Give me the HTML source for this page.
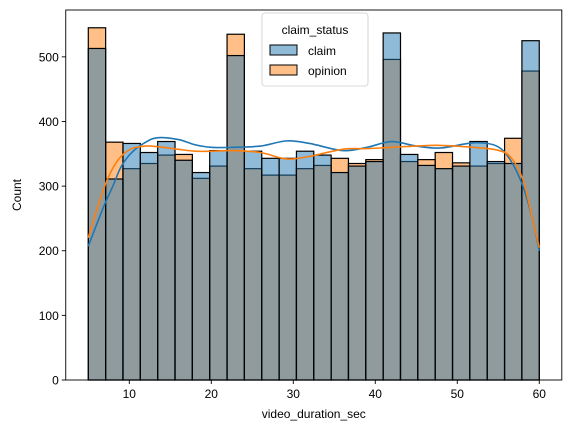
<!DOCTYPE html>
<html><head><meta charset="utf-8"><style>
body{margin:0;background:#fff;}
svg{display:block;font-family:"Liberation Sans","DejaVu Sans",sans-serif;}
</style></head><body>
<svg id="chart" width="571" height="433"></svg>
<script>
const binStart = 5, binEnd = 60;
const claimCounts = [513,311,366,352,369,340,321,355,502,354,343,343,354,348,321,331,338,537,349,332,327,331,369,338,335,525];
const opinionCounts = [545,368,327,335,348,349,312,331,535,327,317,317,327,332,343,335,341,496,338,341,352,336,331,335,374,478];
const kdeX = [5,6,7,8,9,10.3,12,13.5,16,18,20,22.6,26,29.2,32,36,39,42,45,48,52,54.8,56.5,58,59.2,60];
const claimKde = [207,240,272,300,330,352,368,375,372,364,360,360,362,370,366,355,360,369,362,359,367,362,340,300,248,200];
const opinionKde = [220,262,300,328,346,358,362,361,357,354,354,355,352,342,346,357,358,360,362,363,360,356,345,310,248,205];
const xTicks = [10,20,30,40,50,60];
const yTicks = [0,100,200,300,400,500];

const L=65.75,R=561.8,T=10,B=380;
const xMin=2.25,xMax=62.75,yMax=572.5;
const xs=v=>L+(v-xMin)/(xMax-xMin)*(R-L);
const ys=v=>B-v/yMax*(B-T);
const svg=document.getElementById('chart');
const NS='http://www.w3.org/2000/svg';
function mk(tag,attrs,parent){const e=document.createElementNS(NS,tag);for(const k in attrs)e.setAttribute(k,attrs[k]);(parent||svg).appendChild(e);return e;}

const n=claimCounts.length, bw=(binEnd-binStart)/n;
function drawBars(arr,color,name){
  const g=mk('g',{});
  
  
  arr.forEach((c,i)=>{
    const x0=xs(binStart+i*bw),x1=xs(binStart+(i+1)*bw);
    const r=mk('rect',{x:x0,y:ys(c),width:x1-x0,height:B-ys(c),fill:color,'fill-opacity':0.5,stroke:'#000','stroke-width':1.2},g);
    
    
  });
}
drawBars(opinionCounts,'#ff7f0e','opinion');
drawBars(claimCounts,'#1f77b4','claim');

function curve(xa,ya,color,name){
  const p=xa.map((x,i)=>[xs(x),ys(ya[i])]);
  let d='M'+p[0][0]+','+p[0][1];
  for(let i=0;i<p.length-1;i++){
    const p0=p[Math.max(0,i-1)],p1=p[i],p2=p[i+1],p3=p[Math.min(p.length-1,i+2)];
    const c1=[p1[0]+(p2[0]-p0[0])/6,p1[1]+(p2[1]-p0[1])/6];
    const c2=[p2[0]-(p3[0]-p1[0])/6,p2[1]-(p3[1]-p1[1])/6];
    d+=` C${c1[0]},${c1[1]} ${c2[0]},${c2[1]} ${p2[0]},${p2[1]}`;
  }
  const e=mk('path',{d:d,fill:'none',stroke:color,'stroke-width':1.6});
  
  
}
curve(kdeX,claimKde,'#1f77b4','claim');
curve(kdeX,opinionKde,'#ff7f0e','opinion');

const frame=mk('rect',{x:L,y:T,width:R-L,height:B-T,fill:'none',stroke:'#000','stroke-width':0.9});



xTicks.forEach(v=>{
  mk('line',{x1:xs(v),x2:xs(v),y1:B,y2:B+4,stroke:'#000','stroke-width':0.9});
  const t=mk('text',{x:xs(v),y:B+18,'text-anchor':'middle','font-size':12});
  t.textContent=v;
  
  
});
yTicks.forEach(v=>{
  mk('line',{x1:L-4,x2:L,y1:ys(v),y2:ys(v),stroke:'#000','stroke-width':0.9});
  const t=mk('text',{x:L-7,y:ys(v)+4.5,'text-anchor':'end','font-size':12});
  t.textContent=v;
  
  
});
const xl=mk('text',{x:(L+R)/2,y:418,'text-anchor':'middle','font-size':12});
xl.textContent='video_duration_sec';


const yl=mk('text',{x:21,y:195,'text-anchor':'middle','font-size':12,transform:'rotate(-90 21 195)'});
yl.textContent='Count';



const lg=mk('g',{});


mk('rect',{x:262,y:13,width:106,height:73,rx:3,fill:'#fff','fill-opacity':0.8,stroke:'#ccc','stroke-width':0.8},lg);
const lt=mk('text',{x:315,y:34,'text-anchor':'middle','font-size':12},lg);
lt.textContent='claim_status';


[['claim','#1f77b4',45],['opinion','#ff7f0e',65]].forEach(([lab,c,y])=>{
  const r=mk('rect',{x:270,y:y,width:27,height:10,fill:c,'fill-opacity':0.5,stroke:'#000','stroke-width':1},lg);
  
  
  const t=mk('text',{x:308,y:y+10,'font-size':12},lg);
  t.textContent=lab;
  
  
});
</script>
</body></html>
